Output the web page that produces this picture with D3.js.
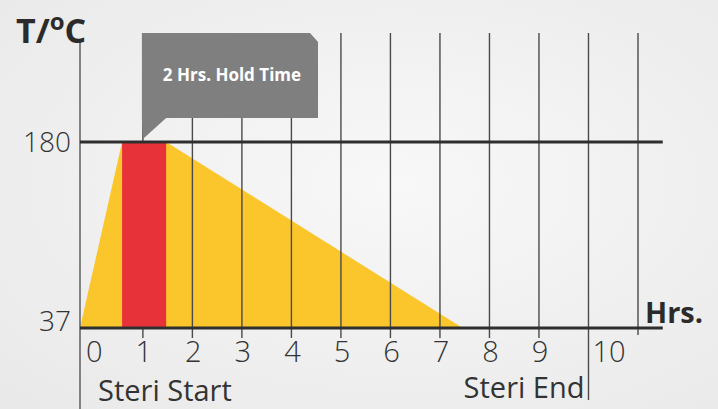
<!DOCTYPE html>
<html>
<head>
<meta charset="utf-8">
<script src="https://cdn.jsdelivr.net/npm/d3@7"></script>
<style>
    html, body { margin: 0; padding: 0; overflow: hidden; }
    svg { display: block; }
</style>
</head>
<body>
<svg id="chart" width="718" height="409"></svg>
<script>
// hour labels under the axis, grid lines, temperature ticks
var hourLabels = [0, 1, 2, 3, 4, 5, 6, 7, 8, 9, 10]
var gridHours = [1, 2, 3, 4, 5, 6, 7, 8, 9, 10, 11]
var tempTicks = [37, 180]

// temperature profile (yellow) and the hold period (red)
var profileTime = [-0.27, 0.58, 1.47, 7.46]
var profileTemp = [37, 180, 180, 37]
var holdPeriod = [0.58, 1.47]

// markers
var markerNames = ["Steri Start", "Steri End"]
var markerHours = [-0.27, 10]

var holdLabel = "2 Hrs. Hold Time"

var width = 718
var height = 409

var svg = d3.select("#chart")

// background
var defs = svg.append("defs")
var grad = defs.append("radialGradient").attr("id", "bg")
    .attr("cx", "55%").attr("cy", "45%").attr("r", "75%")
grad.append("stop").attr("offset", "0%").attr("stop-color", "#f8f8f8")
grad.append("stop").attr("offset", "100%").attr("stop-color", "#e9e9e9")
svg.append("rect").attr("width", width).attr("height", height).attr("fill", "url(#bg)")

var x = d3.scaleLinear().domain([-0.27, 11]).range([80, 638])
var y = d3.scaleLinear().domain([37, 180]).range([328, 142])

var left = x(markerHours[0])
var right = x(11.5)

// yellow temperature area
var area = d3.area()
    .x(function(d) { return x(d[0]) })
    .y0(y(37))
    .y1(function(d) { return y(d[1]) })
svg.append("path")
    .datum(d3.zip(profileTime, profileTemp))
    .attr("fill", "#fbc62c")
    .attr("d", area)

// vertical grid lines
svg.append("g").selectAll("line")
    .data(gridHours)
    .join("line")
    .attr("x1", function(d) { return x(d) })
    .attr("x2", function(d) { return x(d) })
    .attr("y1", 33)
    .attr("y2", function(d) { return d === markerHours[1] ? 400 : (d === 11 ? 335 : 338) })
    .attr("stroke", "#4a4a4a")
    .attr("stroke-width", 1.4)

// red hold bar
svg.append("rect")
    .attr("x", x(holdPeriod[0]))
    .attr("width", x(holdPeriod[1]) - x(holdPeriod[0]))
    .attr("y", y(180))
    .attr("height", y(37) - y(180))
    .attr("fill", "#e8323a")

// left axis / steri start line
svg.append("line")
    .attr("x1", left).attr("x2", left)
    .attr("y1", 43).attr("y2", height)
    .attr("stroke", "#555").attr("stroke-width", 1.4)

// horizontal lines at 180 and 37
svg.append("g").selectAll("line")
    .data(tempTicks)
    .join("line")
    .attr("x1", left).attr("x2", right)
    .attr("y1", function(d) { return y(d) })
    .attr("y2", function(d) { return y(d) })
    .attr("stroke", "#2e2e2e")
    .attr("stroke-width", 3)

// temperature labels
svg.append("g").selectAll("text")
    .data(tempTicks)
    .join("text")
    .attr("x", 71)
    .attr("y", function(d) { return y(d) - (d === 37 ? 7 : 0) })
    .attr("dy", "0.35em")
    .attr("text-anchor", "end")
    .style("font-family", "'Open Sans', sans-serif")
    .style("font-weight", 300)
    .style("font-size", "28px")
    .style("fill", "#333")
    .text(function(d) { return d })

// hour labels
svg.append("g").selectAll("text")
    .data(hourLabels)
    .join("text")
    .attr("x", function(d) { return d === markerHours[1] ? x(d) + 4 : x(d) + 1 })
    .attr("y", 362)
    .attr("text-anchor", function(d) { return d === markerHours[1] ? "start" : "middle" })
    .style("font-family", "'Open Sans', sans-serif")
    .style("font-weight", 300)
    .style("font-size", "29px")
    .style("fill", "#333")
    .text(function(d) { return d })

// marker labels
svg.append("text")
    .attr("x", left + 18).attr("y", 401)
    .style("font-family", "'Open Sans', sans-serif")
    .style("font-size", "29px")
    .style("fill", "#333")
    .text(markerNames[0])
svg.append("text")
    .attr("x", x(markerHours[1]) - 4).attr("y", 398)
    .attr("text-anchor", "end")
    .style("font-family", "'Open Sans', sans-serif")
    .style("font-size", "29px")
    .style("fill", "#333")
    .text(markerNames[1])

// axis titles
var tTitle = svg.append("text")
    .attr("x", 16).attr("y", 43)
    .style("font-family", "'Open Sans', sans-serif")
    .style("font-weight", 700)
    .style("font-size", "34px")
    .style("fill", "#2b2b2b")
tTitle.append("tspan").text("T/")
tTitle.append("tspan").attr("dy", -13).style("font-size", "24px").text("o")
tTitle.append("tspan").attr("dy", 13).text("C")

svg.append("text")
    .attr("x", 645).attr("y", 323)
    .style("font-family", "'Open Sans', sans-serif")
    .style("font-weight", 700)
    .style("font-size", "29px")
    .style("fill", "#2b2b2b")
    .text("Hrs.")

// callout
var cx0 = x(1) - 1
var cx1 = 318
var cy0 = 33
var cy1 = 118
var callout = [
    [cx0, cy0], [cx1 - 8, cy0], [cx1, cy0 + 9], [cx1, cy1],
    [x(holdPeriod[1]), cy1], [x(1), y(180) - 3], [cx0, cy1]
]
svg.append("path")
    .attr("d", d3.line()(callout) + "Z")
    .attr("fill", "#7f7f7f")

svg.append("text")
    .attr("x", (cx0 + cx1) / 2 + 2).attr("y", 75)
    .attr("dy", "0.35em")
    .attr("text-anchor", "middle")
    .style("font-family", "'Open Sans', sans-serif")
    .style("font-weight", 700)
    .style("font-size", "17px")
    .style("fill", "#ffffff")
    .text(holdLabel)
</script>
</body>
</html>
